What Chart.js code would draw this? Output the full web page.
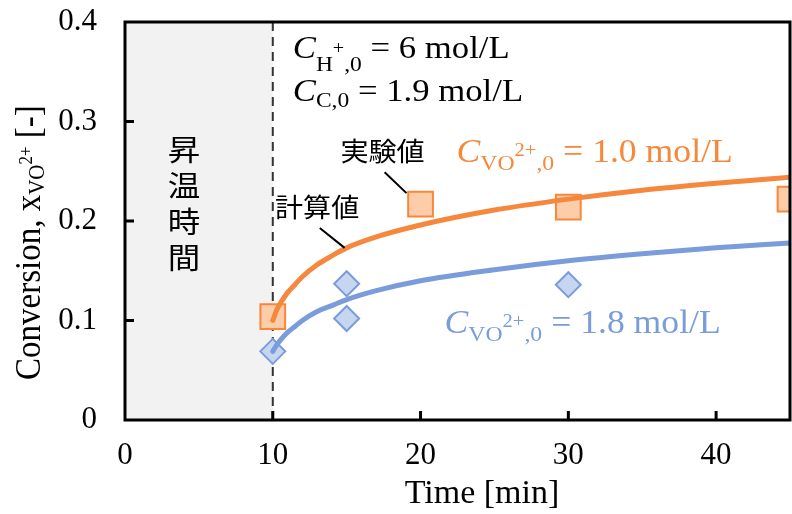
<!DOCTYPE html>
<html><head><meta charset="utf-8">
<script src="https://cdn.jsdelivr.net/npm/chart.js@4.4.1/dist/chart.umd.min.js"></script>
<style>html,body{margin:0;padding:0;background:#fff}</style>
</head><body>
<canvas id="c" width="792" height="514"></canvas>
<script>
// ---- data ----
const curveTime   = [10, 10.25, 10.5, 11, 11.5, 12, 13, 14, 15, 17, 20, 25, 30, 35, 40, 45];
const curveOrange = [0.100, 0.110, 0.117, 0.128, 0.136, 0.144, 0.156, 0.165, 0.173, 0.184, 0.196, 0.211, 0.222, 0.231, 0.238, 0.244];
const curveBlue   = [0.069, 0.075, 0.080, 0.088, 0.094, 0.100, 0.109, 0.115, 0.121, 0.130, 0.140, 0.151, 0.160, 0.167, 0.173, 0.178];
const expOrangeTime = [10, 20, 30, 45];
const expOrange     = [0.104, 0.217, 0.214, 0.222];
const expBlueTime = [10, 15, 15, 30];
const expBlue     = [0.069, 0.137, 0.102, 0.136];
const xTickValues = [0, 10, 20, 30, 40];
const yTickValues = [0, 0.1, 0.2, 0.3, 0.4];
const heatingEnd = 10;

const ORANGE = '#F5883C', ORANGE_FILL = '#FDCDAA';
const BLUE = '#7A9CDB', BLUE_FILL = '#C7D6F0';
const SERIF = '"Liberation Serif", "Times New Roman", serif';
const JP = '"Noto Sans CJK JP", sans-serif';

const pts = (xs, ys) => xs.map((x, i) => ({x, y: ys[i]}));

function drawRich(ctx, x, y, segs, color, hs, vs, rot) {
  ctx.save();
  ctx.translate(x, y);
  if (rot) ctx.rotate(rot);
  ctx.scale(hs || 1, vs || 1);
  ctx.fillStyle = color;
  ctx.textAlign = 'left';
  ctx.textBaseline = 'alphabetic';
  let cx = 0;
  for (const s of segs) {
    ctx.font = (s.it ? 'italic ' : '') + s.size + 'px ' + SERIF;
    ctx.fillText(s.t, cx, s.dy || 0);
    cx += ctx.measureText(s.t).width;
  }
  ctx.restore();
}

const deco = {
  id: 'deco',
  beforeDatasetsDraw(chart) {
    const {ctx, chartArea: a, scales: {x}} = chart;
    const x0 = x.getPixelForValue(0), x1 = x.getPixelForValue(heatingEnd);
    ctx.save();
    ctx.fillStyle = '#F2F2F2';
    ctx.fillRect(x0, a.top, x1 - x0, a.bottom - a.top);
    ctx.strokeStyle = '#333';
    ctx.lineWidth = 2;
    ctx.setLineDash([9, 6]);
    ctx.beginPath();
    ctx.moveTo(x1, a.top); ctx.lineTo(x1, a.bottom);
    ctx.stroke();
    ctx.restore();
  },
  afterDatasetsDraw(chart) {
    const {ctx, chartArea: a, scales: {x, y}} = chart;
    ctx.save();
    // frame
    ctx.strokeStyle = '#000';
    ctx.lineWidth = 3;
    ctx.strokeRect(a.left, a.top, a.right - a.left, a.bottom - a.top);
    // inward ticks
    ctx.beginPath();
    x.ticks.forEach(t => { if (t.value > 0) { const px = x.getPixelForValue(t.value); ctx.moveTo(px, a.bottom); ctx.lineTo(px, a.bottom - 9); } });
    y.ticks.forEach(t => { if (t.value > 0 && t.value < 0.4) { const py = y.getPixelForValue(t.value); ctx.moveTo(a.left, py); ctx.lineTo(a.left + 9, py); } });
    ctx.stroke();
    // pointer lines
    ctx.lineWidth = 2;
    ctx.beginPath();
    ctx.moveTo(x.getPixelForValue(17.57), y.getPixelForValue(0.249));
    ctx.lineTo(x.getPixelForValue(19.05), y.getPixelForValue(0.228));
    ctx.moveTo(x.getPixelForValue(13.18), y.getPixelForValue(0.193));
    ctx.lineTo(x.getPixelForValue(14.86), y.getPixelForValue(0.173));
    ctx.stroke();
    // Japanese labels
    ctx.fillStyle = '#000';
    ctx.textAlign = 'center';
    ctx.textBaseline = 'middle';
    const jp = (txt, px, py, size, hs) => {
      ctx.save(); ctx.translate(px, py); ctx.scale(hs, 1);
      ctx.font = size + 'px ' + JP; ctx.fillText(txt, 0, 0); ctx.restore();
    };
    jp('実験値', x.getPixelForValue(17.43), y.getPixelForValue(0.2705), 26, 1.08);
    jp('計算値', x.getPixelForValue(13.0), y.getPixelForValue(0.2135), 26, 1.08);
    const vcx = x.getPixelForValue(4.0);
    ['昇', '温', '時', '間'].forEach((ch, i) => {
      jp(ch, vcx, y.getPixelForValue(0.2713 - i * 0.0363), 29, 1.12);
    });
    // condition texts
    drawRich(ctx, x.getPixelForValue(11.35), y.getPixelForValue(0.3638), [
      {t: 'C', it: true, size: 31}, {t: 'H', size: 21, dy: 13}, {t: '+', size: 18, dy: -4},
      {t: ',0', size: 21, dy: 13}, {t: ' = 6 mol/L', size: 31}], '#000', 1.12);
    drawRich(ctx, x.getPixelForValue(11.35), y.getPixelForValue(0.3202), [
      {t: 'C', it: true, size: 31}, {t: 'C,0', size: 21, dy: 6}, {t: ' = 1.9 mol/L', size: 31}], '#000', 1.12);
    drawRich(ctx, x.getPixelForValue(22.43), y.getPixelForValue(0.2596), [
      {t: 'C', it: true, size: 33}, {t: 'VO', size: 22, dy: 8}, {t: '2+', size: 19, dy: -6},
      {t: ',0', size: 22, dy: 8}, {t: ' = 1.0 mol/L', size: 33}], ORANGE, 1.08);
    drawRich(ctx, x.getPixelForValue(21.62), y.getPixelForValue(0.0874), [
      {t: 'C', it: true, size: 33}, {t: 'VO', size: 22, dy: 8}, {t: '2+', size: 19, dy: -6},
      {t: ',0', size: 22, dy: 8}, {t: ' = 1.8 mol/L', size: 33}], BLUE, 1.08);
    // axis titles
    ctx.textAlign = 'center'; ctx.textBaseline = 'alphabetic';
    ctx.font = '34px ' + SERIF; ctx.fillStyle = '#000';
    ctx.fillText('Time [min]', 482, 503);
    drawRich(ctx, 40, 380, [
      {t: 'Conversion, x', size: 33}, {t: 'VO', size: 21, dy: 4}, {t: '2+', size: 17, dy: -7},
      {t: ' [-]', size: 33}], '#000', 1, 1.1, -Math.PI / 2);
    ctx.restore();
  }
};

new Chart(document.getElementById('c'), {
  type: 'scatter',
  data: {
    datasets: [
      {type: 'line', data: pts(curveTime, curveOrange), borderColor: ORANGE, borderWidth: 5, pointRadius: 0,
       cubicInterpolationMode: 'monotone', borderCapStyle: 'round', fill: false},
      {type: 'line', data: pts(curveTime, curveBlue), borderColor: BLUE, borderWidth: 5, pointRadius: 0,
       cubicInterpolationMode: 'monotone', borderCapStyle: 'round', fill: false},
      {data: pts(expOrangeTime, expOrange), pointStyle: 'rect', pointRadius: 17.5, pointBorderWidth: 2,
       backgroundColor: ORANGE_FILL, borderColor: ORANGE},
      {data: pts(expBlueTime, expBlue), pointStyle: 'rectRot', pointRadius: 12.5, pointBorderWidth: 2,
       backgroundColor: BLUE_FILL, borderColor: BLUE}
    ]
  },
  options: {
    responsive: false, animation: false, devicePixelRatio: 1,
    layout: {autoPadding: false, padding: {top: 22, right: 2, left: 0, bottom: 0}},
    plugins: {legend: {display: false}, tooltip: {enabled: false}},
    scales: {
      x: {type: 'linear', min: 0, max: 45,
          afterBuildTicks: s => { s.ticks = xTickValues.map(v => ({value: v})); },
          ticks: {font: {family: SERIF, size: 31}, color: '#000', padding: 0, maxRotation: 0},
          grid: {display: false, drawTicks: true, tickLength: 17}, border: {display: false},
          afterFit: s => { s.height = 94; s.paddingLeft = 0; s.paddingRight = 0; }},
      y: {type: 'linear', min: 0, max: 0.4,
          afterBuildTicks: s => { s.ticks = yTickValues.map(v => ({value: v})); },
          ticks: {font: {family: SERIF, size: 31}, color: '#000', padding: 0,
                  callback: v => v === 0 ? '0' : v.toFixed(1)},
          grid: {display: false, drawTicks: true, tickLength: 28}, border: {display: false},
          afterFit: s => { s.width = 125; s.paddingTop = 0; s.paddingBottom = 0; }}
    }
  },
  plugins: [deco]
});
</script>
</body></html>
